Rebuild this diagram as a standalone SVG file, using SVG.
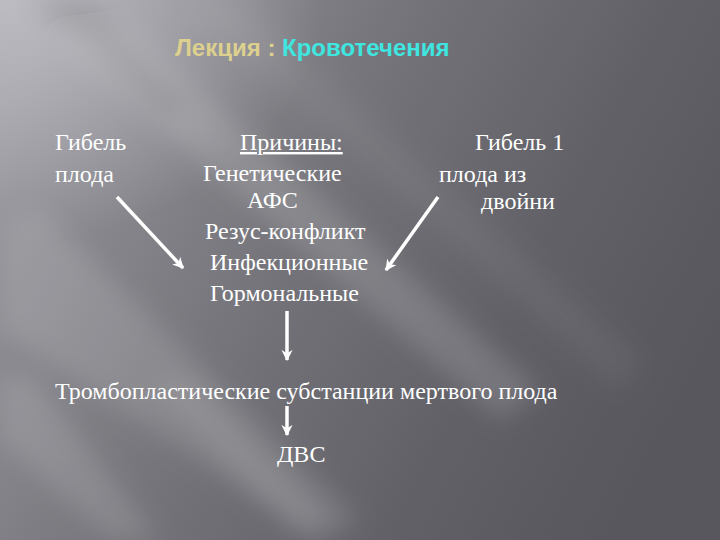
<svg xmlns="http://www.w3.org/2000/svg" width="720" height="540" viewBox="0 0 720 540">
<defs>
<linearGradient id="bg" x1="0" y1="0.2" x2="1" y2="0.6">
<stop offset="0" stop-color="#96969c"/>
<stop offset="0.45" stop-color="#727278"/>
<stop offset="0.75" stop-color="#616067"/>
<stop offset="1" stop-color="#58575e"/>
</linearGradient>
<radialGradient id="tl" cx="0" cy="0" r="0.45">
<stop offset="0" stop-color="#c0c0c6" stop-opacity="0.9"/>
<stop offset="1" stop-color="#c0c0c6" stop-opacity="0"/>
</radialGradient>
<filter id="blur" x="-20%" y="-20%" width="140%" height="140%"><feGaussianBlur stdDeviation="12"/></filter>
<marker id="ah" viewBox="0 0 10 10" refX="9" refY="5" markerWidth="3.2" markerHeight="3.2" orient="auto" markerUnits="strokeWidth">
<path d="M0,0 L10,5 L0,10 L3,5 z" fill="#ffffff"/>
</marker>
<style>
.t{font-family:"Liberation Serif","Times New Roman",serif;font-size:24px;fill:#ffffff}
.h{font-family:"Liberation Sans",Arial,sans-serif;font-size:24px;font-weight:bold}
.c{stroke:#ffffff;stroke-width:3.5;fill:none;marker-end:url(#ah)}
</style>
</defs>
<g id="background">
<rect width="720" height="540" fill="url(#bg)"/>
<rect width="720" height="540" fill="url(#tl)"/>
<g filter="url(#blur)">
<polygon points="30,0 90,0 200,110 160,120" fill="#000000" opacity="0.10"/>
<polygon points="60,40 130,30 540,390 500,420" fill="#ffffff" opacity="0.14"/>
<polygon points="0,230 40,210 360,520 320,540 0,330" fill="#ffffff" opacity="0.12"/>
<polygon points="0,380 30,375 160,540 110,540 0,440" fill="#ffffff" opacity="0.12"/>
<polygon points="150,380 190,380 330,520 300,540" fill="#ffffff" opacity="0.10"/>
<polygon points="180,0 240,0 640,360 620,390" fill="#ffffff" opacity="0.05"/>
</g>
</g>
<g id="title">
<text class="h" x="175" y="56"><tspan fill="#ddd08e">Лекция : </tspan><tspan fill="#3fe6e0">Кровотечения</tspan></text>
</g>
<g id="node-death">
<text class="t" x="55" y="150">Гибель</text>
<text class="t" x="55" y="182">плода</text>
</g>
<g id="node-causes">
<text class="t" x="240" y="150" text-decoration="underline">Причины:</text>
<text class="t" x="203" y="181">Генетические</text>
<text class="t" x="247" y="208">АФС</text>
<text class="t" x="205" y="239">Резус-конфликт</text>
<text class="t" x="210" y="270">Инфекционные</text>
<text class="t" x="210" y="301">Гормональные</text>
</g>
<g id="node-twin">
<text class="t" x="475" y="150">Гибель 1</text>
<text class="t" x="439" y="182">плода из</text>
<text class="t" x="481" y="209">двойни</text>
</g>
<g id="node-thrombo">
<text class="t" x="55" y="399">Тромбопластические субстанции мертвого плода</text>
</g>
<g id="node-dic">
<text class="t" x="277" y="462">ДВС</text>
</g>
<g id="connectors">
<line class="c" x1="117" y1="197" x2="183" y2="268"/>
<line class="c" x1="438" y1="197" x2="386" y2="270"/>
<line class="c" x1="287" y1="311" x2="287" y2="360"/>
<line class="c" x1="287" y1="406" x2="287" y2="435"/>
</g>
</svg>
